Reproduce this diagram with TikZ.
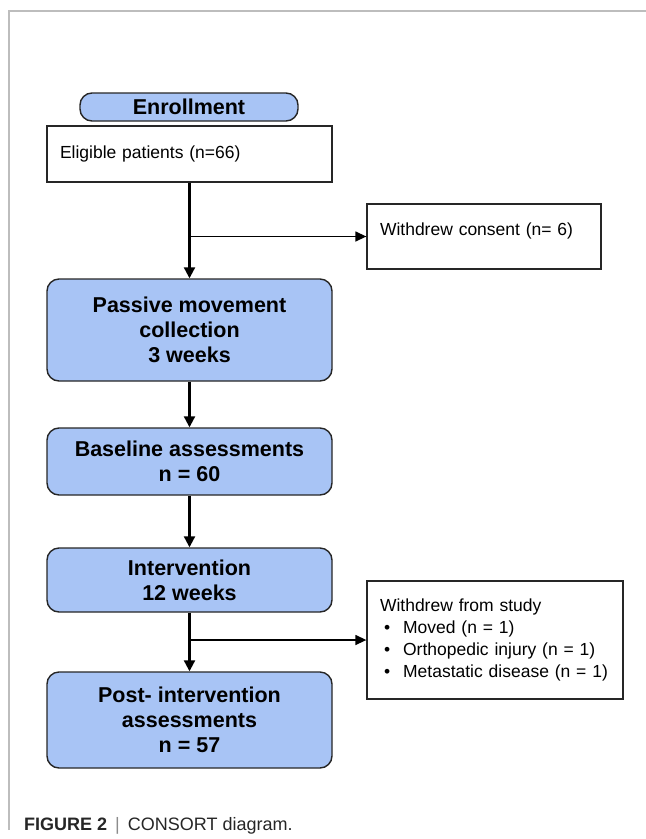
\documentclass[tikz,border=0pt]{standalone}
\usepackage{fontspec}
\setmainfont{Liberation Sans}
\usetikzlibrary{arrows.meta}
\definecolor{stageblue}{HTML}{A8C4F5}
\definecolor{framegray}{HTML}{BDBDBD}

\begin{document}
\begin{tikzpicture}[x=1pt,y=-1pt]
			\tikzset{stage/.style={rectangle, rounded corners=12pt, draw=black!85, line width=1.4pt, fill=stageblue, minimum width=285pt, align=center, inner sep=0pt, font=\fontsize{21.5}{25}\selectfont\bfseries}}
			\tikzset{info/.style={rectangle, draw=black!85, line width=1.3pt, fill=white, align=left, inner xsep=13pt, inner ysep=0pt, font=\fontsize{17.5}{21.7}\selectfont}}
			\tikzset{flow/.style={line width=2.2pt, -{Triangle[length=11pt,width=11pt]}}}
			\tikzset{branch/.style={line width=1.4pt, -{Triangle[length=11pt,width=10pt]}}}
			\useasboundingbox (0,0) rectangle (646,839);

			% page frame
			\draw [framegray, line width=1.6pt] (9,830) -- (9,11) -- (646,11);

			\node[stage, minimum width=218pt, minimum height=28pt] at (189,107) (enroll) {Enrollment};
			\node[info, text width=259pt, minimum height=56pt] at (189.5,154) (elig) {Eligible patients (n=66)};
			\node[info, text width=208pt, text height=31pt, text depth=34pt] at (484,236.5) (consent) {Withdrew consent (n= 6)};
			\node[stage, minimum height=102pt] at (189.5,330) (passive) {Passive movement\\collection\\3 weeks};
			\node[stage, minimum height=67pt] at (189.5,461.5) (base) {Baseline assessments\\n = 60};
			\node[stage, minimum height=64pt] at (189.5,580) (interv) {Intervention\\12 weeks};
			\node[info, text width=230pt, minimum height=118pt] at (495,640) (study) {Withdrew from study\\
				\hspace*{4pt}\textbullet\hspace{13pt}Moved (n = 1)\\
				\hspace*{4pt}\textbullet\hspace{13pt}Orthopedic injury (n = 1)\\
				\hspace*{4pt}\textbullet\hspace{13pt}Metastatic disease (n = 1)};
			\node[stage, minimum height=96pt] at (189.5,720) (post) {Post- intervention\\assessments\\n = 57};

			% Main flow
			\draw [flow] (elig) -- (passive);
			\draw [flow] (passive) -- (base);
			\draw [flow] (base) -- (interv);
			\draw [flow] (interv) -- (post);

			% Drop-outs
			\coordinate (split1) at (elig.south |- consent.west);
			\coordinate (split2) at (interv.south |- study.west);
			\draw [branch] (split1) -- (consent.west);
			\draw [branch] (split2) -- (study.west);

			\node[anchor=base west, inner sep=0pt, text=black!85, font=\fontsize{18}{22}\selectfont] at (24,830) (caption) {\textbf{FIGURE 2}\hspace{8pt}{\color{black!45}|}\hspace{8pt}CONSORT diagram.};
		\end{tikzpicture}
\end{document}
